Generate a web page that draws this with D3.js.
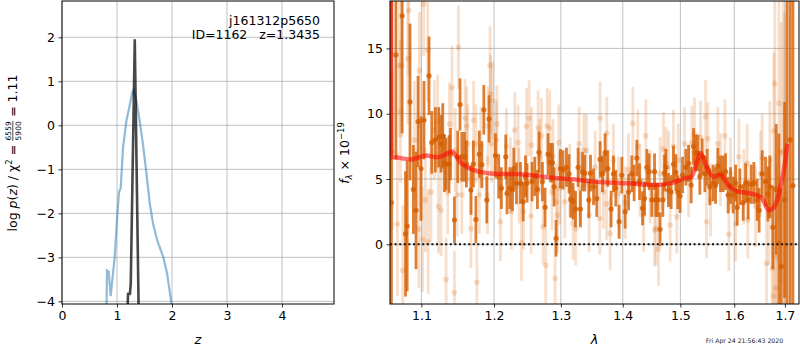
<!DOCTYPE html>
<html>
<head>
<meta charset="utf-8">
<script src="https://cdn.jsdelivr.net/npm/d3@7"></script>
<style>
body { margin: 0; background: #fff; }
svg { font-family: "DejaVu Sans", sans-serif; }
</style>
</head>
<body>
<div id="chart"></div>
<script>
// ---- left panel: p(z) ----
var zTicks = [0, 1, 2, 3, 4];
var pzTicks = [-4, -3, -2, -1, 0, 1, 2];
// [z, log p(z)]
var pzBroad = [[0.807,-4.5],[0.812,-3.9],[0.818,-3.30],[0.85,-3.33],[0.885,-3.88],[0.958,-2.99],[1.0,-2.15],
  [1.036,-1.51],[1.067,-1.43],[1.11,-0.5],[1.17,0.1],[1.23,0.45],[1.28,0.76],[1.30,0.80],[1.35,0.57],[1.41,0.12],
  [1.47,-0.41],[1.535,-1.09],[1.595,-1.77],[1.655,-2.23],[1.73,-2.61],[1.84,-2.99],[1.91,-3.36],[1.99,-4.05],[2.0,-4.4]];
var pzSharp = [[1.185,-4.5],[1.20,-3.83],[1.235,-3.83],[1.25,-3.6],[1.323,1.93],[1.397,-4.5]];
var objName = 'j161312p5650';
var objInfo = 'ID=1162   z=1.3435';

// ---- right panel: spectrum ----
var lamTicks = [1.1, 1.2, 1.3, 1.4, 1.5, 1.6, 1.7];
var fluxTicks = [0, 5, 10, 15];
// [lambda (um), flux, err]
var specDark = [
  [1.0612,3.2,20],[1.0669,14.5,8],[1.0749,17.5,9],[1.0793,0.8,4.8],[1.0814,1.4,5],[1.0851,10.9,6],[1.0895,4.2,3.4],
  [1.0929,2.6,4.5],[1.0956,9.4,3.5],[1.0995,5.8,4],[1.1034,9.5,3],[1.1101,12.9,3],[1.1137,7.8,2.4],[1.1186,8.0,2.5],
  [1.1231,8.2,2.3],[1.1262,7.7,2.2],[1.1285,8.3,2.5],[1.1308,6.2,2.2],[1.1330,6.15,2.0],[1.1370,6.15,2.2],[1.1390,6.9,2.0],
  [1.1444,1.86,1.8],[1.1490,6.7,2.0],[1.1521,10.7,2.0],[1.1545,6.7,1.9],[1.1582,6.7,1.9],[1.1609,6.15,1.8],[1.1673,4.16,1.9],
  [1.1706,6.15,1.8],[1.1742,1.9,1.8],[1.1790,6.9,1.8],[1.1826,6.1,1.8],[1.1854,10.3,1.9],[1.1896,3.4,1.8],[1.1929,9.6,1.8],
  [1.2020,6.8,1.7],[1.2067,5.2,1.7],[1.2106,4.3,1.6],[1.2169,6.7,1.7],[1.2188,3.9,1.6],[1.2228,4.3,1.6],[1.2268,4.16,1.6],
  [1.2287,5.8,1.6],[1.2327,4.67,1.6],[1.2386,4.7,1.6],[1.2425,3.26,1.5],[1.2460,5.2,1.6],[1.2484,4.7,1.5],[1.2559,4.8,1.5],
  [1.2600,5.2,1.5],[1.2640,4.2,1.5],[1.2664,7.04,1.6],[1.2716,4.8,1.5],[1.2756,2.83,1.5],[1.2802,6.9,1.6],[1.2839,6.25,1.5],
  [1.2870,6.25,1.5],[1.2894,4.4,1.5],[1.2925,0.46,1.4],[1.2993,5.8,1.5],[1.3033,5.7,1.5],[1.3087,5.9,1.5],[1.3128,5.4,1.5],
  [1.3155,3.44,1.4],[1.3191,3.3,1.4],[1.3229,2.7,1.4],[1.3271,5.9,1.5],[1.3308,2.7,1.4],[1.3340,5.56,1.5],[1.3377,5.45,1.4],
  [1.3442,3.4,1.4],[1.3469,5.45,1.4],[1.3518,4.4,1.4],[1.3571,3.5,1.4],[1.3625,6.5,1.4],[1.3664,5.4,1.4],[1.3707,7.0,1.5],
  [1.3751,5.8,1.4],[1.3806,2.7,1.4],[1.3845,5.4,1.4],[1.3884,4.3,1.4],[1.3939,1.73,1.3],[1.3984,5.3,1.4],[1.4040,2.5,1.3],
  [1.4097,4.0,1.4],[1.4153,5.4,1.4],[1.4192,4.7,1.4],[1.4238,6.6,1.4],[1.4284,4.8,1.4],[1.4335,2.76,1.3],[1.4370,3.5,1.3],
  [1.4410,5.9,1.4],[1.4449,5.56,1.4],[1.4496,3.4,1.3],[1.4543,5.56,1.4],[1.4565,3.4,1.3],[1.4600,3.4,1.3],[1.4640,1.15,1.3],
  [1.4688,3.4,1.3],[1.4718,5.45,1.4],[1.4741,5.9,1.4],[1.4788,4.16,1.3],[1.4835,4.0,1.3],[1.4877,6.15,1.4],[1.4918,5.5,1.4],
  [1.4954,4.0,1.3],[1.4995,3.7,1.3],[1.5039,5.3,1.4],[1.5099,5.9,1.4],[1.5148,6.2,1.4],[1.5195,4.54,1.4],[1.5239,7.5,1.4],
  [1.5276,7.0,1.4],[1.5318,7.0,1.4],[1.5354,5.2,1.4],[1.5397,6.7,1.4],[1.5447,5.4,1.4],[1.5489,5.9,1.4],[1.5539,4.4,1.4],
  [1.5601,4.7,1.4],[1.5646,4.5,1.4],[1.5689,6.0,1.4],[1.5739,5.4,1.4],[1.5788,5.4,1.4],[1.5834,5.56,1.4],[1.5883,3.77,1.4],
  [1.5929,4.5,1.4],[1.5980,3.77,1.4],[1.6026,4.7,1.4],[1.6057,2.83,1.4],[1.6108,4.4,1.4],[1.6172,3.2,1.4],[1.6219,4.7,1.5],
  [1.6269,3.4,1.5],[1.6327,4.6,1.5],[1.6380,4.7,1.6],[1.6445,3.4,1.6],[1.6484,2.6,1.7],[1.6544,5.4,1.8],[1.6611,4.8,1.9],
  [1.6657,3.85,2.1],[1.6697,4.4,2.4],[1.6757,1.3,3.2],[1.6824,4.2,5],[1.6878,0.08,8.4],[1.6925,-1.7,6],[1.6994,3.4,7.5],
  [1.7045,22,30],[1.7108,8.0,25],[1.7165,4.5,25]];
var specLight = [
  [1.0622,7.1,6],[1.0688,1.55,5.5],[1.0714,13.7,5.5],[1.0728,10.2,5.5],[1.0745,13.7,5.5],[1.0758,-2.0,5],[1.0822,14.2,5],
  [1.0835,17.9,5],[1.0908,8.0,4.5],[1.0965,1.15,4.5],[1.0974,13.3,4.5],[1.1017,0.38,4],[1.1030,18.4,4],[1.1053,3.4,4],
  [1.1083,14.9,4],[1.1090,0.2,4],[1.1127,4.0,3.8],[1.1173,8.75,3.8],[1.1217,9.4,3.6],[1.1226,2.9,3.6],[1.1262,2.6,3.5],
  [1.1330,-2.7,3.2],[1.1353,3.95,3.2],[1.1376,9.2,3.2],[1.1411,12.0,3.2],[1.1444,-3.7,3.2],[1.1455,7.2,3.2],[1.1480,3.8,3.2],
  [1.1499,15.1,3.2],[1.1545,3.8,3.0],[1.1590,9.65,3.0],[1.1614,9.06,3.0],[1.1627,7.7,3.0],[1.1673,1.2,3.0],[1.1710,9.5,3.0],
  [1.1742,7.7,3.0],[1.1756,-2.9,3.0],[1.1790,3.8,3.0],[1.1812,7.5,3.0],[1.1906,3.78,3.0],[1.1915,9.06,3.0],[1.1943,13.7,3.0],
  [1.1948,11.5,3.0],[1.1963,7.7,3.0],[1.1977,11.0,3.0],[1.2034,8.0,3.0],[1.2042,9.2,3.0],[1.2092,1.73,3.0],[1.2179,7.5,2.9],
  [1.2238,5.3,2.9],[1.2253,2.5,2.9],[1.2302,8.75,2.9],[1.2351,7.8,2.9],[1.2365,4.5,2.9],[1.2401,0.12,2.9],[1.2430,2.5,2.9],
  [1.2475,9.06,2.9],[1.2514,9.65,2.9],[1.2545,2.17,2.9],[1.2550,7.6,2.9],[1.2650,8.9,2.9],[1.2675,6.7,2.9],[1.2701,8.3,2.9],
  [1.2726,1.35,2.9],[1.2767,-1.6,2.9],[1.2787,9.06,2.9],[1.2828,8.9,2.9],[1.2863,4.0,2.9],[1.2879,6.7,2.9],[1.2910,-2.6,2.9],
  [1.2931,3.26,2.9],[1.2947,2.24,2.9],[1.2967,7.8,2.9],[1.2982,4.3,2.8],[1.3061,3.26,2.8],[1.3139,4.9,2.8],[1.3191,1.6,2.8],
  [1.3233,1.2,2.8],[1.3286,7.7,2.8],[1.3297,4.3,2.8],[1.3361,7.2,2.8],[1.3404,7.2,2.8],[1.3446,2.24,2.8],[1.3544,5.9,2.8],
  [1.3620,2.0,2.8],[1.3625,9.65,2.8],[1.3680,4.0,2.8],[1.3730,3.1,2.8],[1.3735,8.5,2.8],[1.3790,0.84,2.8],[1.3845,6.45,2.8],
  [1.3929,3.9,2.8],[1.4040,3.2,2.8],[1.4097,5.7,2.8],[1.4170,9.26,2.8],[1.4255,7.5,2.8],[1.4294,4.9,2.8],[1.4353,2.24,2.8],
  [1.4392,8.3,2.8],[1.4466,4.4,2.8],[1.4543,1.1,2.8],[1.4570,1.2,2.8],[1.4612,-0.38,2.8],[1.4640,5.4,2.8],[1.4700,7.3,2.8],
  [1.4745,6.2,2.8],[1.4788,5.9,2.8],[1.4817,1.48,2.8],[1.4877,7.5,2.8],[1.4936,2.1,2.8],[1.4961,6.45,2.8],[1.5074,7.7,2.8],
  [1.5148,4.9,2.8],[1.5207,7.8,2.8],[1.5256,8.45,2.8],[1.5367,8.2,2.8],[1.5460,9.77,2.8],[1.5478,1.73,2.8],[1.5502,8.1,2.8],
  [1.5552,3.4,2.8],[1.5689,7.7,2.8],[1.5739,5.7,2.8],[1.5821,8.3,2.8],[1.5897,0.77,2.8],[1.5929,5.4,2.8],[1.6026,1.6,2.9],
  [1.6089,6.7,2.9],[1.6185,4.4,2.9],[1.6250,6.2,3.0],[1.6263,1.9,3.0],[1.6414,2.9,3.1],[1.6512,5.4,3.3],[1.6544,6.6,3.4],
  [1.6631,-1.45,4],[1.6677,2.4,4],[1.6697,6.45,4.5],[1.6743,-1.84,5],[1.6772,-3.96,5],[1.6777,8.7,6],[1.6797,12.3,8],
  [1.6811,-3.37,6],[1.6831,-1.0,7],[1.6878,10.8,9],[1.6925,7.0,10],[1.6966,7.1,12],[1.6994,3.8,14]];
// [lambda, flux] model
var modelLine = [[1.0605,25],[1.0612,6.66],[1.0632,6.66],[1.0869,6.5],[1.1066,6.8],[1.1199,6.66],[1.1300,6.8],[1.1403,7.1],
  [1.1540,6.2],[1.1702,5.7],[1.2034,5.4],[1.2327,5.38],[1.2982,5.05],[1.3139,5.0],[1.3511,4.8],[1.4063,4.67],[1.4577,4.54],
  [1.4870,4.72],[1.5080,5.05],[1.5202,5.18],[1.5293,6.2],[1.5367,6.97],[1.5477,5.94],[1.5600,5.18],[1.5726,5.3],[1.5916,4.4],
  [1.6044,4.08],[1.6237,3.95],[1.6433,3.77],[1.6564,3.4],[1.6663,2.63],[1.6763,2.76],[1.6864,3.65],[1.6953,5.18],[1.7020,6.7],[1.7047,7.7]];
var dateText = 'Fri Apr 24 21:56:43 2020';

var width = 800, height = 350;
var svg = d3.select('#chart').append('svg')
  .attr('width', width)
  .attr('height', height);

var L = {x0: 62, x1: 334, y0: 1, y1: 304};
var R = {x0: 390, x1: 799, y0: 1, y1: 304};

var zScale = d3.scaleLinear().domain([0, 4.945]).range([L.x0, L.x1]);
var pzScale = d3.scaleLinear().domain([-4.06, 2.825]).range([L.y1, L.y0]);
var lamScale = d3.scaleLog().domain([1.0594, 1.729]).range([R.x0, R.x1]);
var fScale = d3.scaleLinear().domain([-4.57, 18.63]).range([R.y1, R.y0]);

var defs = svg.append('defs');
defs.append('clipPath').attr('id', 'clipL').append('rect')
  .attr('x', L.x0).attr('y', L.y0).attr('width', L.x1 - L.x0).attr('height', L.y1 - L.y0);
defs.append('clipPath').attr('id', 'clipR').append('rect')
  .attr('x', R.x0).attr('y', R.y0).attr('width', R.x1 - R.x0).attr('height', R.y1 - R.y0);

//grid lines for a panel
const drawGrid = (P, xs, xTicks, ys, yTicks) => {
  var g = svg.append('g').attr('stroke', '#b0b0b0').attr('stroke-width', 0.8);
  xTicks.forEach(t => g.append('line').attr('x1', xs(t)).attr('x2', xs(t)).attr('y1', P.y0).attr('y2', P.y1));
  yTicks.forEach(t => g.append('line').attr('x1', P.x0).attr('x2', P.x1).attr('y1', ys(t)).attr('y2', ys(t)));
};

//axes with outward ticks
const drawAxes = (P, xs, xTicks, xFmt, ys, yTicks, yFmt) => {
  var xa = svg.append('g').attr('transform', 'translate(0,' + P.y1 + ')')
    .call(d3.axisBottom(xs).tickValues(xTicks).tickFormat(xFmt).tickSize(3.5).tickPadding(3.5));
  var ya = svg.append('g').attr('transform', 'translate(' + P.x0 + ',0)')
    .call(d3.axisLeft(ys).tickValues(yTicks).tickFormat(yFmt).tickSize(3.5).tickPadding(3.5));
  [xa, ya].forEach(a => {
    a.select('.domain').remove();
    a.selectAll('text').attr('font-size', 12.5).attr('fill', '#000').attr('font-family', '"DejaVu Sans", sans-serif');
    a.selectAll('line').attr('stroke', '#000').attr('stroke-width', 0.8);
  });
  svg.append('rect').attr('x', P.x0).attr('y', P.y0).attr('width', P.x1 - P.x0).attr('height', P.y1 - P.y0)
    .attr('fill', 'none').attr('stroke', '#000').attr('stroke-width', 1);
};

// ---- left panel ----
drawGrid(L, zScale, zTicks, pzScale, pzTicks);
var gl = svg.append('g').attr('clip-path', 'url(#clipL)');
var pzLine = d3.line().x(d => zScale(d[0])).y(d => pzScale(d[1]));
gl.append('path').datum(pzBroad).attr('d', pzLine)
  .attr('fill', 'none').attr('stroke', '#1f77b4').attr('stroke-opacity', 0.5).attr('stroke-width', 2.2);
gl.append('path').datum(pzSharp).attr('d', pzLine)
  .attr('fill', 'none').attr('stroke', '#000').attr('stroke-opacity', 0.72).attr('stroke-width', 2.6)
  .attr('stroke-linejoin', 'round');
drawAxes(L, zScale, zTicks, d3.format('d'), pzScale, pzTicks, d3.format('d'));

svg.append('text').attr('x', 320).attr('y', 25).attr('text-anchor', 'end').attr('font-size', 12.5).text(objName);
svg.append('text').attr('x', 320).attr('y', 39).attr('text-anchor', 'end').attr('font-size', 12.5)
  .style('white-space', 'pre').text(objInfo);

// ---- right panel ----
drawGrid(R, lamScale, lamTicks, fScale, fluxTicks);
var gr = svg.append('g').attr('clip-path', 'url(#clipR)');
var orange = '#d55e00';

const drawSpec = (data, opacity, r) => {
  var g = gr.append('g');
  g.selectAll('line').data(data).join('line')
    .attr('x1', d => lamScale(d[0])).attr('x2', d => lamScale(d[0]))
    .attr('y1', d => fScale(d[1] - d[2])).attr('y2', d => fScale(d[1] + d[2]))
    .attr('stroke', orange).attr('stroke-opacity', opacity).attr('stroke-width', 2.8);
  g.selectAll('circle').data(data).join('circle')
    .attr('cx', d => lamScale(d[0])).attr('cy', d => fScale(d[1])).attr('r', r)
    .attr('fill', orange).attr('fill-opacity', opacity);
};
drawSpec(specLight, 0.2, 2.8);
drawSpec(specDark, 0.8, 2.6);

gr.append('path').datum(modelLine)
  .attr('d', d3.line().x(d => lamScale(d[0])).y(d => fScale(d[1])).curve(d3.curveMonotoneX))
  .attr('fill', 'none').attr('stroke', 'red').attr('stroke-opacity', 0.55).attr('stroke-width', 4.5)
  .attr('stroke-linejoin', 'round');

// zero level, dotted
gr.append('line').attr('x1', R.x0).attr('x2', R.x1).attr('y1', fScale(0)).attr('y2', fScale(0))
  .attr('stroke', '#111').attr('stroke-width', 2).attr('stroke-dasharray', '2,2.6');

drawAxes(R, lamScale, lamTicks, d3.format('.1f'), fScale, fluxTicks, d3.format('d'));

// ---- axis labels ----
svg.append('text').attr('x', (L.x0 + L.x1) / 2).attr('y', 344).attr('text-anchor', 'middle')
  .attr('font-size', 13).attr('font-style', 'italic').text('z');
svg.append('text').attr('x', (R.x0 + R.x1) / 2).attr('y', 344).attr('text-anchor', 'middle')
  .attr('font-size', 13).attr('font-style', 'italic').text('λ');

// left y label with stacked fraction
var yl = svg.append('g');
var t1 = yl.append('text').attr('font-size', 12.5);
t1.append('tspan').text('log ');
t1.append('tspan').attr('font-style', 'italic').text('p');
t1.append('tspan').text('(');
t1.append('tspan').attr('font-style', 'italic').text('z');
t1.append('tspan').text(') / χ');
t1.append('tspan').attr('font-size', 8.5).attr('dy', -5).text('2');
t1.append('tspan').attr('dy', 5).style('white-space', 'pre').text(' = ');
var w1 = t1.node().getComputedTextLength();
var num = yl.append('text').attr('font-size', 7.5).attr('text-anchor', 'middle').attr('y', -6).text('6559');
var fw = num.node().getComputedTextLength() + 1;
num.attr('x', w1 + fw / 2);
yl.append('text').attr('font-size', 7.5).attr('text-anchor', 'middle').attr('x', w1 + fw / 2).attr('y', 3.5).text('5900');
yl.append('line').attr('x1', w1).attr('x2', w1 + fw).attr('y1', -4.2).attr('y2', -4.2)
  .attr('stroke', '#000').attr('stroke-width', 0.7);
var t3 = yl.append('text').attr('font-size', 12.5).attr('x', w1 + fw).style('white-space', 'pre').text(' = 1.11');
var totalW = w1 + fw + t3.node().getComputedTextLength();
yl.attr('transform', 'translate(17,' + (153 + totalW / 2) + ') rotate(-90)');

// right y label
var yr = svg.append('text').attr('transform', 'translate(349,153) rotate(-90)')
  .attr('text-anchor', 'middle').attr('font-size', 12.5);
yr.append('tspan').attr('font-style', 'italic').text('f');
yr.append('tspan').attr('font-size', 8.5).attr('dy', 3).attr('font-style', 'italic').text('λ');
yr.append('tspan').attr('dy', -3).style('white-space', 'pre').text(' × 10');
yr.append('tspan').attr('font-size', 8.5).attr('dy', -5).text('−19');

svg.append('text').attr('x', 744.5).attr('y', 343).attr('text-anchor', 'middle')
  .attr('font-size', 6.2).attr('fill', '#222').text(dateText);
</script>
</body>
</html>
